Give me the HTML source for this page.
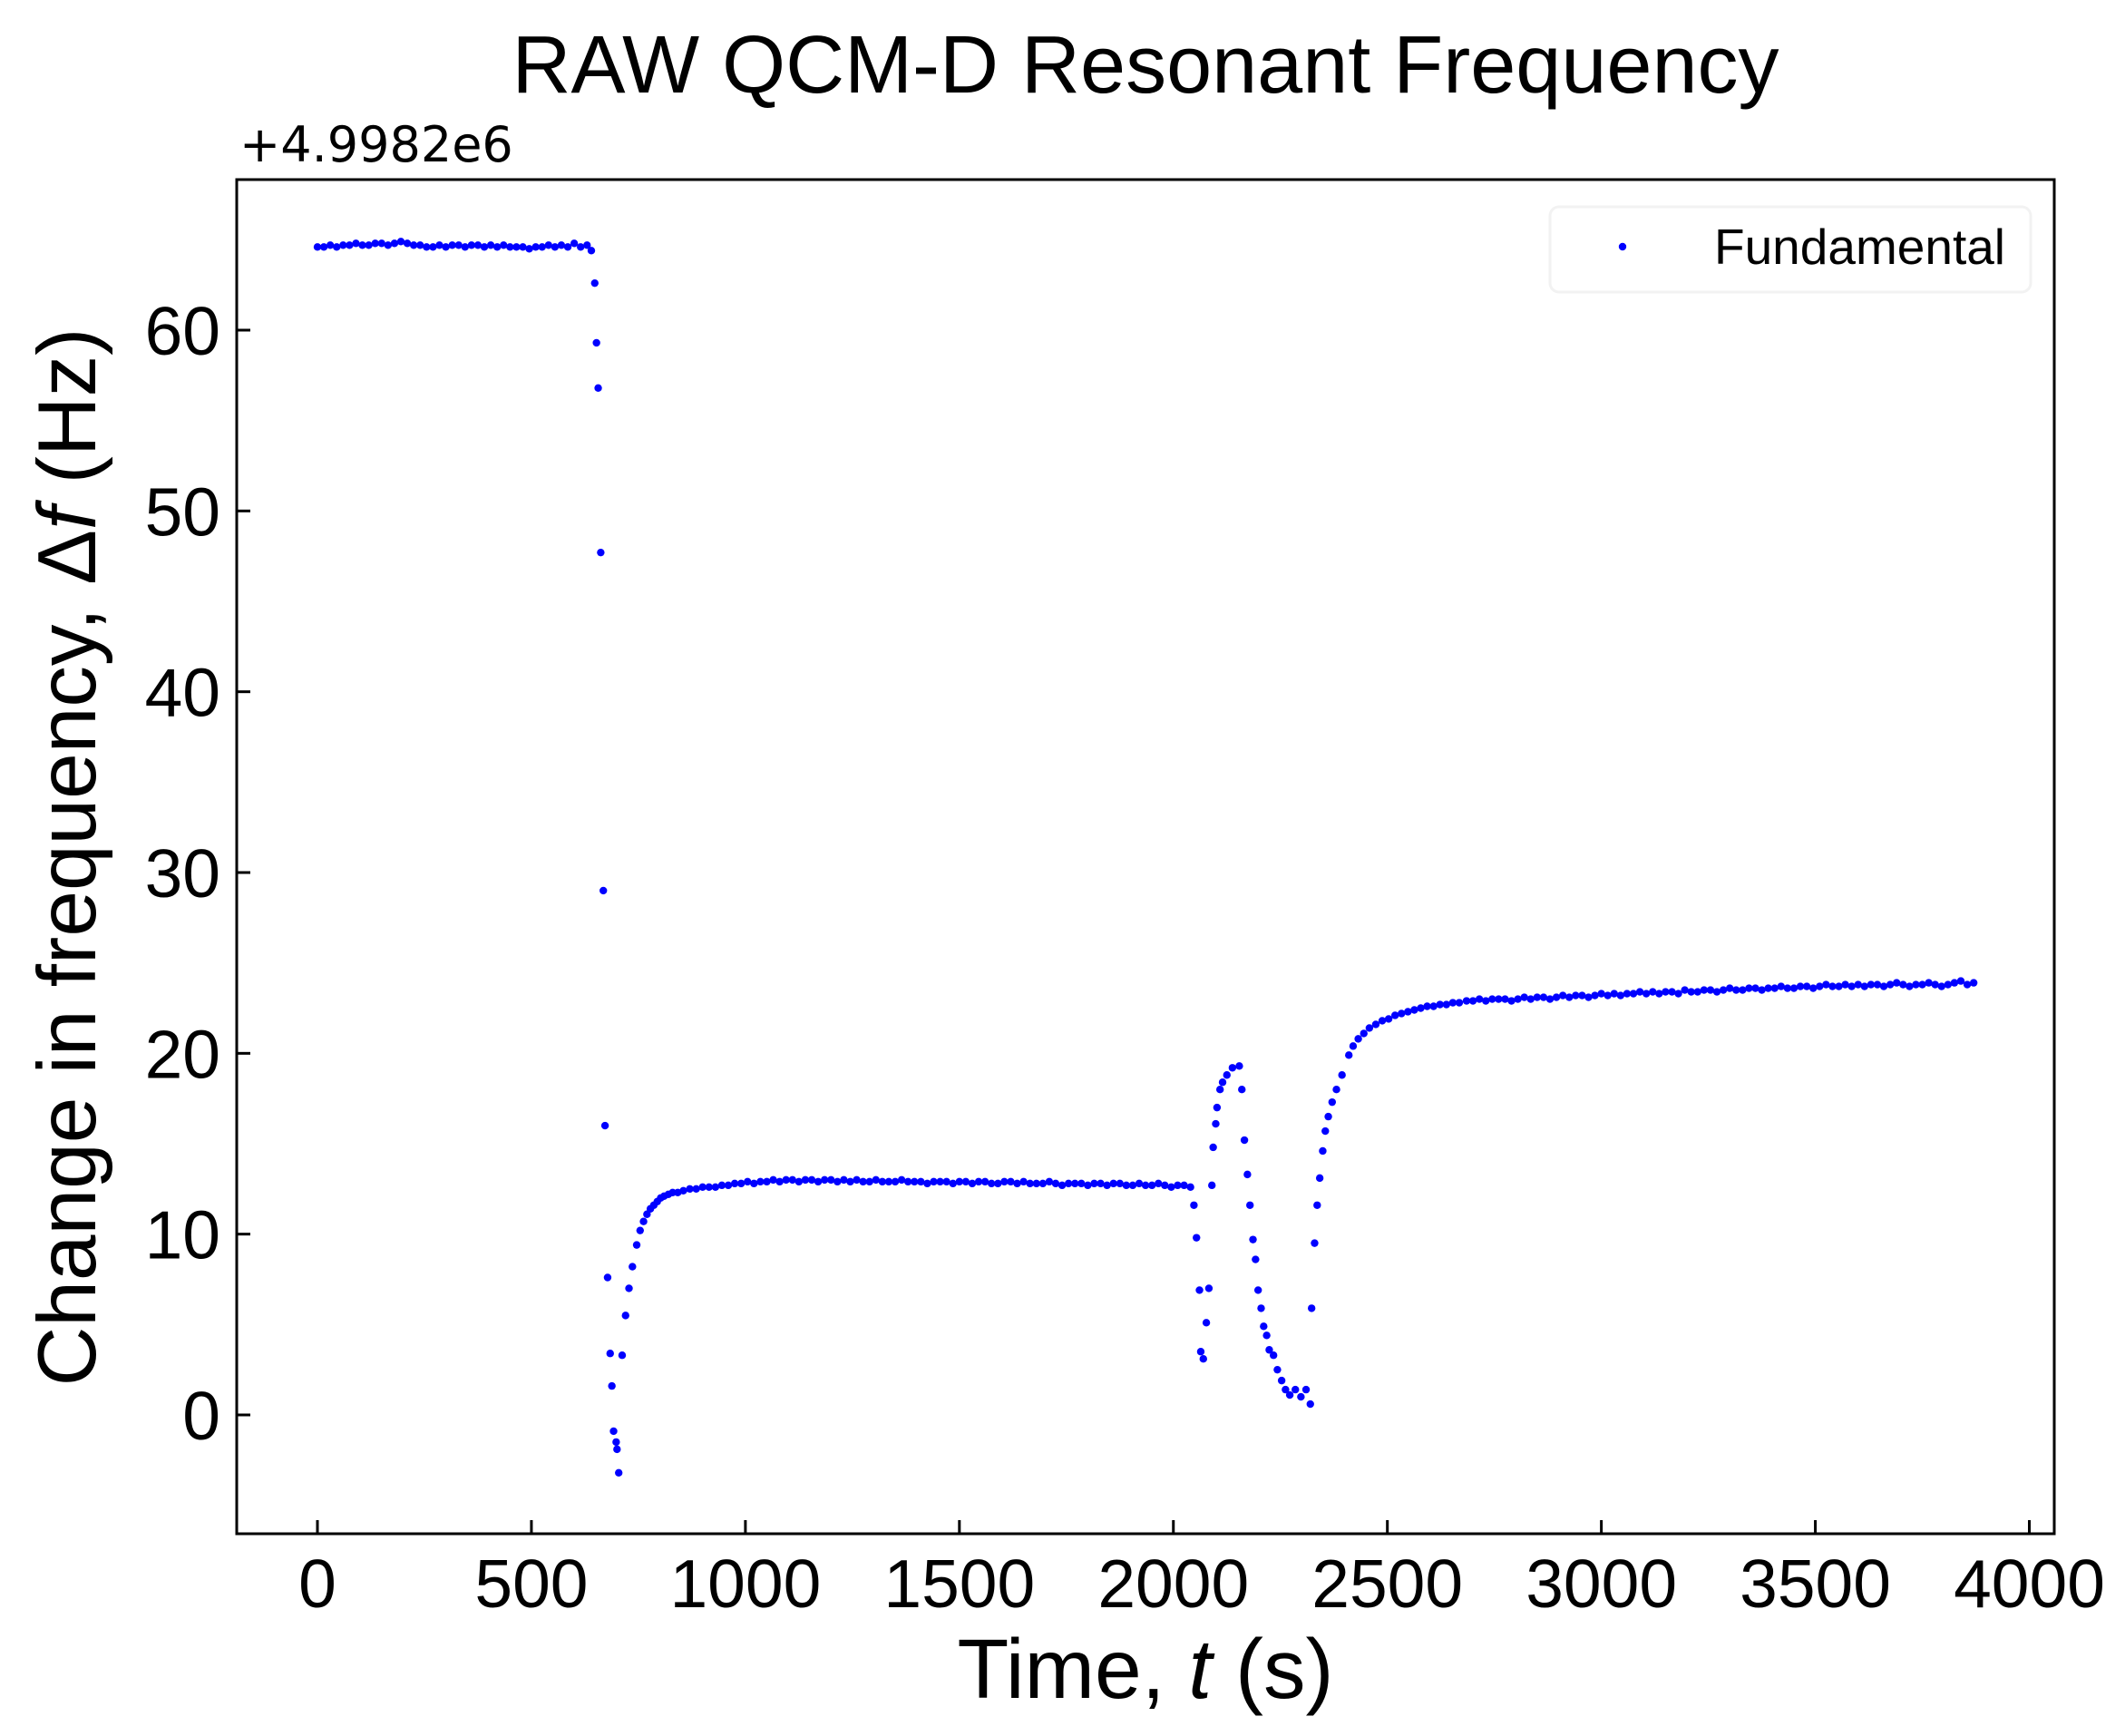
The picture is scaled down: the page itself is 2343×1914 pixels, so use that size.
<!DOCTYPE html>
<html><head><meta charset="utf-8"><style>
html,body{margin:0;padding:0;background:#fff;}
svg{display:block;font-family:"Liberation Sans",Arial,sans-serif;}
</style></head><body>
<svg id="chart" width="2343" height="1914" viewBox="0 0 2343 1914" xmlns="http://www.w3.org/2000/svg">
<rect width="2343" height="1914" fill="#fff"/>
<text x="1263" y="102" font-size="90" text-anchor="middle">RAW QCM-D Resonant Frequency</text>
<text x="264" y="178" font-size="54" font-family="DejaVu Sans, sans-serif">+4.9982e6</text>
<g id="ticks"></g>
<g id="points"></g>
<rect x="261" y="198" width="2004" height="1493" fill="none" stroke="#000" stroke-width="3"/>
<text x="1263" y="1872" font-size="93" text-anchor="middle">Time, <tspan font-style="italic">t</tspan> (s)</text>
<text transform="translate(105,945) rotate(-90)" font-size="91" text-anchor="middle">Change in frequency, Δ<tspan font-style="italic">f</tspan> (Hz)</text>
<g>
<rect x="1709" y="228" width="530" height="94" rx="10" fill="#fff" stroke="#f2f2f2" stroke-width="3"/>
<circle cx="1789" cy="272" r="4.2" fill="#0000ff"/>
<text x="1890" y="291" font-size="55">Fundamental</text>
</g>
</svg>
<script>
const xTicks = [0,500,1000,1500,2000,2500,3000,3500,4000];
const yTicks = [0,10,20,30,40,50,60];
const times = [
0,15,30,45,60,75,90,105,120,135,150,165,180,195,210,225,240,255,270,285,300,315,330,345,360,375,390,405,420,435,450,465,480,495,510,525,540,555,570,585,600,615,630,
640,648,652,656,662,668,672,678,684,688,692,698,700,704,712,720,728,736,746,754,762,770,778,786,794,802,810,820,830,842,855,
870,885,900,915,930,945,960,975,990,1005,1020,1035,1050,1065,1080,1095,1110,1125,1140,1155,1170,1185,1200,1215,1230,1245,1260,1275,1290,1305,1320,1335,1350,1365,1380,1395,1410,1425,1440,1455,1470,1485,1500,1515,1530,1545,1560,1575,1590,1605,1620,1635,1650,1665,1680,1695,1710,1725,1740,1755,1770,1785,1800,1815,1830,1845,1860,1875,1890,1905,1920,1935,1950,1965,1980,1995,2010,2025,2040,
2048,2054,2061,2064,2070,2077,2083,2090,2093,2099,2102,2109,2115,2125,2138,2154,2160,2166,2173,2179,2186,2192,2198,2205,2211,2218,2224,2234,2243,2253,2262,2272,2285,2298,2310,2320,2323,2330,2336,2342,2349,2355,2362,2371,2381,2394,2410,2420,2432,2445,2458,2473,2488,2503,2518,2533,2548,2563,2578,2593,2608,2623,2638,2653,2668,2685,
2700,2715,2730,2745,2760,2775,2790,2805,2820,2835,2850,2865,2880,2895,2910,2925,2940,2955,2970,2985,3000,3015,3030,3045,3060,3075,3090,3105,3120,3135,3150,3165,3180,3195,3210,3225,3240,3255,3270,3285,3300,3315,3330,3345,3360,3375,3390,3405,3420,3435,3450,3465,3480,3495,3510,3525,3540,3555,3570,3585,3600,3615,3630,3645,3660,3675,3690,3705,3720,3735,3750,3765,3780,3795,3810,3825,3840,3855,3870
];
const freqs = [
64.6,64.6,64.7,64.6,64.7,64.7,64.8,64.7,64.7,64.8,64.8,64.7,64.8,64.9,64.8,64.7,64.7,64.6,64.6,64.7,64.6,64.7,64.7,64.6,64.7,64.7,64.6,64.7,64.6,64.7,64.6,64.6,64.6,64.5,64.6,64.6,64.7,64.6,64.7,64.6,64.8,64.6,64.7,
64.4,62.6,59.3,56.8,47.7,29.0,16.0,7.6,3.4,1.6,-0.9,-1.5,-1.9,-3.2,3.3,5.5,7.0,8.2,9.4,10.2,10.7,11.1,11.4,11.6,11.8,12.0,12.1,12.2,12.3,12.3,12.4,
12.5,12.5,12.6,12.6,12.6,12.7,12.7,12.8,12.8,12.9,12.8,12.9,12.9,13.0,12.9,13.0,13.0,12.9,13.0,13.0,12.9,13.0,13.0,12.9,13.0,12.9,13.0,12.9,12.9,13.0,12.9,12.9,12.9,13.0,12.9,12.9,12.9,12.8,12.9,12.9,12.9,12.8,12.9,12.9,12.8,12.9,12.9,12.8,12.8,12.9,12.9,12.8,12.9,12.8,12.8,12.8,12.9,12.8,12.7,12.8,12.8,12.8,12.7,12.8,12.8,12.7,12.8,12.8,12.7,12.7,12.8,12.7,12.7,12.8,12.7,12.6,12.7,12.7,12.6,
11.6,9.8,6.9,3.5,3.1,5.1,7.0,12.7,14.8,16.1,17.0,18.0,18.4,18.8,19.2,19.3,18.0,15.2,13.3,11.6,9.7,8.6,6.9,5.9,4.9,4.4,3.6,3.3,2.5,1.9,1.4,1.1,1.4,1.0,1.4,0.6,5.9,9.5,11.6,13.1,14.6,15.7,16.5,17.3,18.0,18.8,19.9,20.4,20.8,21.1,21.4,21.6,21.8,21.9,22.1,22.2,22.3,22.4,22.5,22.6,22.6,22.7,22.7,22.8,22.8,22.9,
22.9,23.0,22.9,23.0,23.0,23.0,22.9,23.0,23.1,23.0,23.1,23.1,23.0,23.1,23.2,23.1,23.2,23.2,23.1,23.2,23.3,23.2,23.3,23.2,23.3,23.3,23.4,23.3,23.4,23.3,23.4,23.4,23.3,23.5,23.4,23.4,23.5,23.5,23.4,23.5,23.6,23.5,23.5,23.6,23.6,23.5,23.6,23.6,23.7,23.6,23.6,23.7,23.7,23.6,23.7,23.8,23.7,23.7,23.8,23.7,23.8,23.7,23.8,23.8,23.7,23.8,23.9,23.8,23.7,23.8,23.8,23.9,23.8,23.7,23.8,23.9,24.0,23.8,23.9
];
const NS = "http://www.w3.org/2000/svg";
function xScale(t){ return 350 + t * (2237.5 - 350) / 4000; }
function yScale(v){ return 1560 - v * (1560 - 364) / 60; }
const tg = document.getElementById('ticks');
xTicks.forEach(function(t){
  const x = xScale(t);
  const l = document.createElementNS(NS,'line');
  l.setAttribute('x1',x); l.setAttribute('x2',x); l.setAttribute('y1',1691); l.setAttribute('y2',1676);
  l.setAttribute('stroke','#000'); l.setAttribute('stroke-width','3');
  
  
  tg.appendChild(l);
  const tx = document.createElementNS(NS,'text');
  tx.setAttribute('x',x); tx.setAttribute('y',1772); tx.setAttribute('font-size','75'); tx.setAttribute('text-anchor','middle');
  tx.textContent = t;
  
  
  tg.appendChild(tx);
});
yTicks.forEach(function(v){
  const y = yScale(v);
  const l = document.createElementNS(NS,'line');
  l.setAttribute('x1',261); l.setAttribute('x2',276); l.setAttribute('y1',y); l.setAttribute('y2',y);
  l.setAttribute('stroke','#000'); l.setAttribute('stroke-width','3');
  
  
  tg.appendChild(l);
  const tx = document.createElementNS(NS,'text');
  tx.setAttribute('x',243); tx.setAttribute('y',y+27); tx.setAttribute('font-size','75'); tx.setAttribute('text-anchor','end');
  tx.textContent = v;
  
  
  tg.appendChild(tx);
});
const pg = document.getElementById('points');
const n = Math.min(times.length, freqs.length);
for (let i = 0; i < n; i++) {
  const c = document.createElementNS(NS,'circle');
  c.setAttribute('cx', xScale(times[i]));
  c.setAttribute('cy', yScale(freqs[i]));
  c.setAttribute('r', 4.2);
  c.setAttribute('fill', '#0000ff');
  
  
  pg.appendChild(c);
}
</script>
</body></html>
